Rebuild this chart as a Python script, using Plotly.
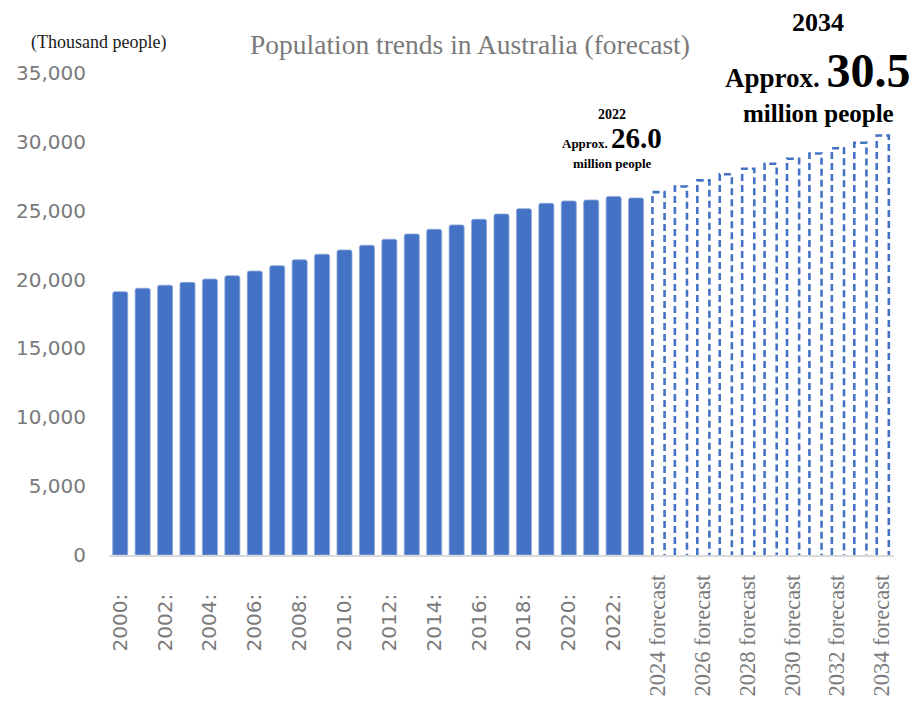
import plotly.graph_objects as go

# Population of Australia, thousand people
years = list(range(2000, 2035))
actual_years = list(range(2000, 2024))
actual_pop = [19120, 19370, 19590, 19800, 20040, 20280, 20620, 21010, 21440, 21840,
              22150, 22490, 22930, 23310, 23650, 23970, 24380, 24760, 25150, 25540,
              25710, 25780, 26040, 25930]
forecast_years = list(range(2024, 2035))
forecast_pop = [26350, 26760, 27200, 27650, 28050, 28410, 28770, 29160, 29540, 29930, 30460]

tick_years = list(range(2000, 2035, 2))

BLUE = "#4472C4"
GRAY = "#7a7a7a"
SANS = "DejaVu Sans"
SERIF = "Liberation Serif"

idx = {y: i for i, y in enumerate(years)}
ax = [idx[y] for y in actual_years]

fig = go.Figure()

# actual values: solid bars
fig.add_trace(go.Bar(
    x=ax, y=actual_pop, width=0.67,
    marker=dict(color=BLUE, line=dict(color="#8fa9dc", width=0.8), cornerradius=2),
    hoverinfo="x+y", showlegend=False,
))

# forecast values: open bars with a dashed outline
half = 0.27
fx, fy = [], []
for y, v in zip(forecast_years, forecast_pop):
    c = idx[y]
    fx += [c - half, c - half, c + half, c + half, None]
    fy += [0, v, v, 0, None]
fig.add_trace(go.Scatter(
    x=fx, y=fy, mode="lines",
    line=dict(color=BLUE, width=2.6, dash="7px,4px"),
    hoverinfo="skip", showlegend=False,
))

def tick_label(y):
    if y < 2024:
        return f"{y}:\u00a0\u00a0\u00a0"
    return f'<span style="font-family:{SERIF};font-size:22.5px">{y} forecast</span>'

fig.update_xaxes(
    range=[-0.5, 34.5],
    tickvals=[idx[y] for y in tick_years],
    ticktext=[tick_label(y) for y in tick_years],
    tickangle=-90,
    tickfont=dict(family=SANS, size=20, color=GRAY),
    ticks="", ticklabelstandoff=10, automargin=False,
    showline=True, linecolor="#d9d9d9", linewidth=1.5,
    showgrid=False, zeroline=False,
)
fig.update_yaxes(
    range=[0, 35000], tickvals=list(range(0, 35001, 5000)), tickformat=",d",
    tickfont=dict(family=SANS, size=20, color=GRAY),
    showgrid=False, zeroline=False, showline=False, ticks="",
    ticklabelstandoff=22, automargin=False,
)

L, R, T, B = 109, 23, 73, 148
W, H = 917, 703
pw, ph = W - L - R, H - T - B

def px(x):
    return (x - L) / pw

def py(y):
    return (H - B - y) / ph

def note(text, x, y, size, color="#000000", family=SERIF, bold=False, xanchor="center"):
    fig.add_annotation(
        text=text, xref="paper", yref="paper", x=px(x), y=py(y),
        xanchor=xanchor, yanchor="middle", showarrow=False,
        font=dict(family=family, size=size, color=color, weight="bold" if bold else "normal"),
    )

note("Population trends in Australia (forecast)", 470, 45, 27.5, color=GRAY)
note("(Thousand people)", 29, 42, 18, color="#1a1a1a", xanchor="left")

# 2022 callout
v22 = actual_pop[actual_years.index(2022)]
note("2022", 612, 114, 14, bold=True)
note(f'Approx. <span style="font-size:29px">{v22 / 1000:.1f}</span>', 612, 138, 13, bold=True)
note("million people", 612, 163, 13, bold=True)

# 2034 callout
v34 = forecast_pop[forecast_years.index(2034)]
note("2034", 818, 23, 26, bold=True)
note(f'Approx. <span style="font-size:48px">{v34 / 1000:.1f}</span>', 818, 70, 27, bold=True)
note("million people", 818, 113, 25, bold=True)

fig.update_layout(
    width=W, height=H,
    margin=dict(l=L, r=R, t=T, b=B, autoexpand=False),
    plot_bgcolor="white", paper_bgcolor="white",
    barmode="overlay",
)

fig.write_html("out.html")
